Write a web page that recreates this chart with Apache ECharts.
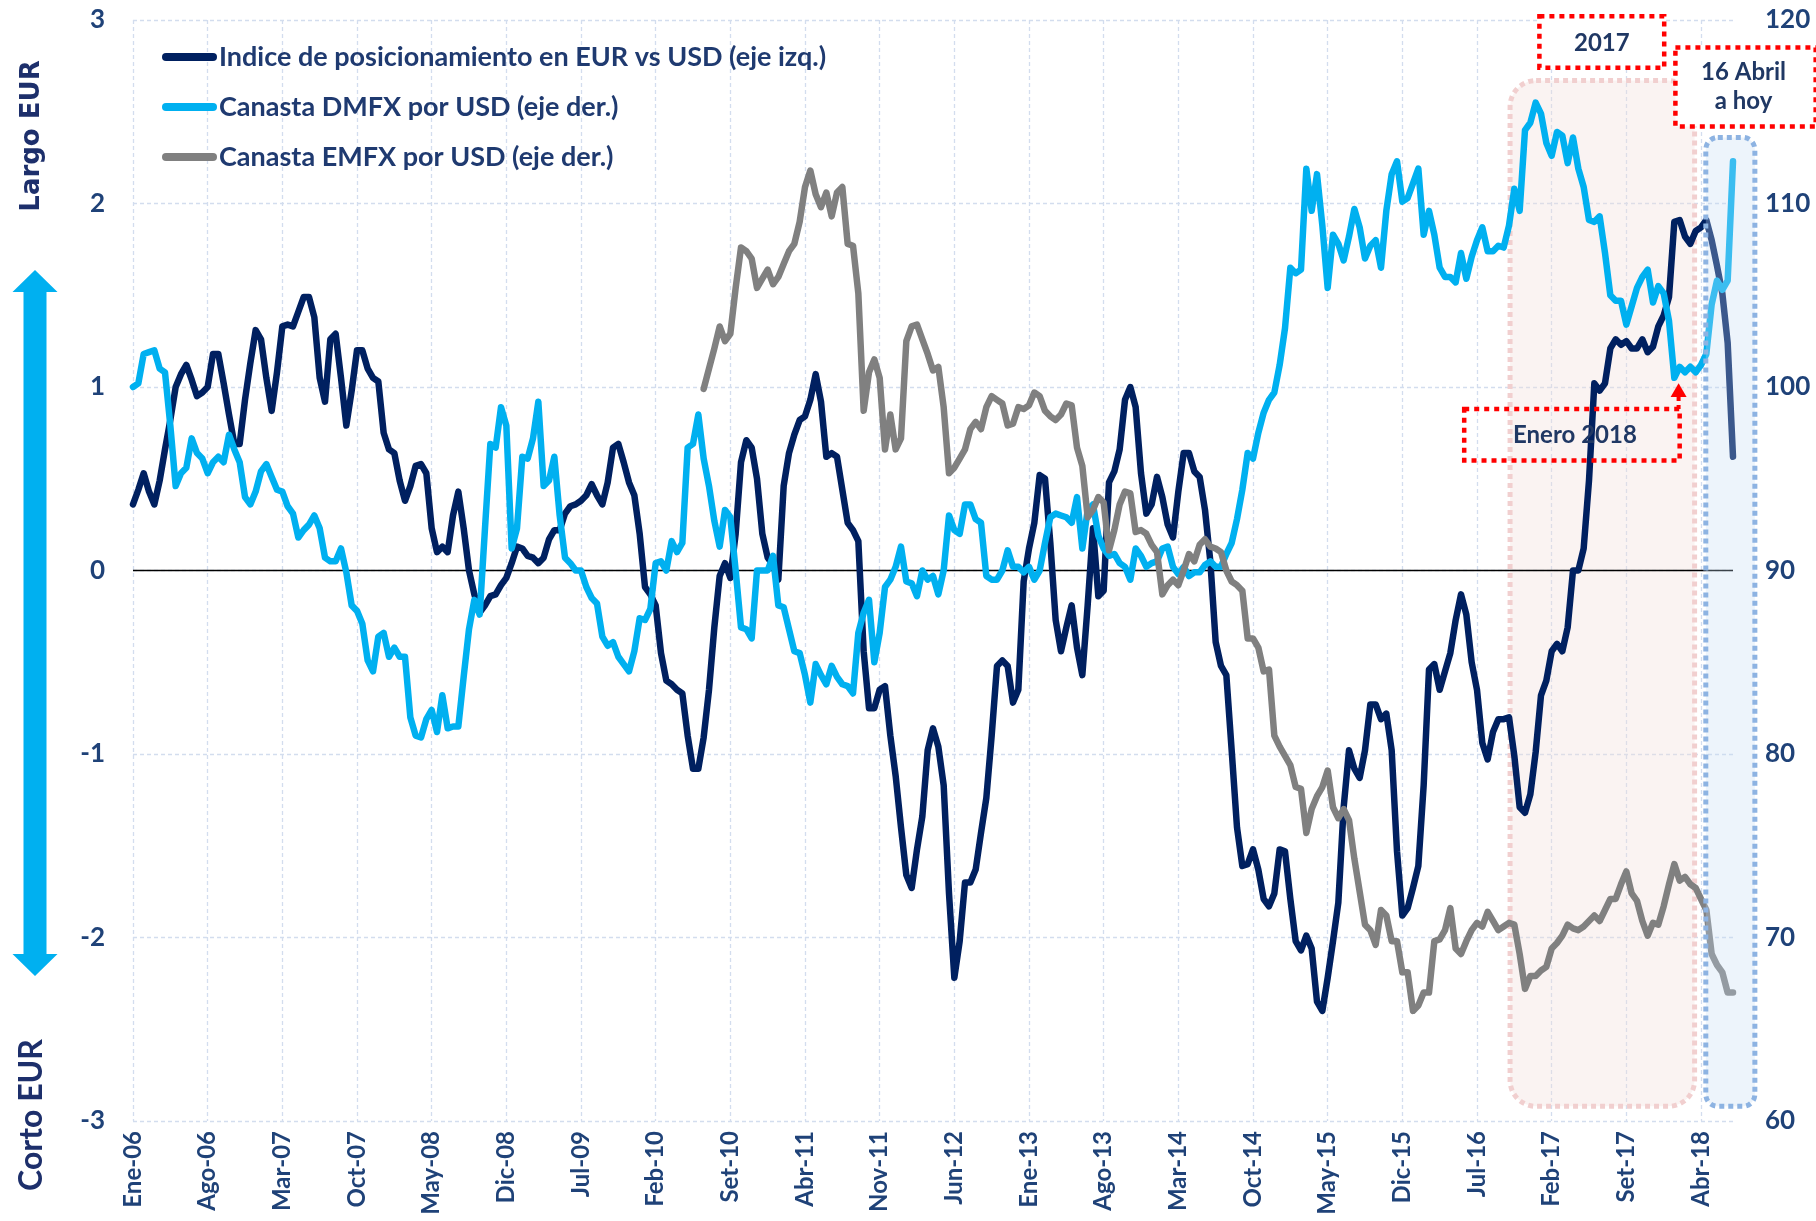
<!DOCTYPE html>
<html><head><meta charset="utf-8">
<script src="https://cdn.jsdelivr.net/npm/echarts@6/dist/echarts.min.js"></script>
<style>html,body{margin:0;padding:0;background:#fff}#c{width:1816px;height:1221px}</style>
</head><body><div id="c"></div>
<script>
// ---------- DATA (semi-monthly points, Jan-2006 .. Jul-2018) ----------
const tickLabels = ['Ene-06','Ago-06','Mar-07','Oct-07','May-08','Dic-08','Jul-09','Feb-10','Set-10','Abr-11','Nov-11','Jun-12','Ene-13','Ago-13','Mar-14','Oct-14','May-15','Dic-15','Jul-16','Feb-17','Set-17','Abr-18'];

const seriesNames = ['Indice de posicionamiento en EUR vs USD (eje izq.)','Canasta DMFX por USD (eje der.)','Canasta EMFX por USD (eje der.)'];

const indice = [
0.36,0.44,0.53,0.43,0.36,0.49,0.66,0.82,1.00,1.07,
1.12,1.04,0.95,0.97,1.00,1.18,1.18,1.02,0.85,0.69,
0.69,0.93,1.13,1.31,1.26,1.05,0.87,1.08,1.33,1.34,
1.33,1.41,1.49,1.49,1.38,1.05,0.92,1.26,1.29,1.05,
0.79,0.98,1.20,1.20,1.10,1.05,1.03,0.75,0.66,0.64,
0.49,0.38,0.46,0.57,0.58,0.53,0.23,0.10,0.13,0.10,
0.30,0.43,0.23,0.00,-0.13,-0.23,-0.19,-0.14,-0.13,-0.08,
-0.04,0.04,0.13,0.12,0.08,0.07,0.04,0.07,0.17,0.22,
0.22,0.31,0.35,0.36,0.38,0.41,0.47,0.41,0.36,0.48,
0.67,0.69,0.59,0.48,0.41,0.20,-0.09,-0.13,-0.19,-0.45,
-0.60,-0.62,-0.65,-0.67,-0.90,-1.08,-1.08,-0.91,-0.65,-0.31,
-0.03,0.04,-0.04,0.20,0.59,0.71,0.67,0.50,0.20,0.07,
0.03,-0.05,0.46,0.64,0.74,0.82,0.84,0.93,1.07,0.92,
0.62,0.64,0.62,0.44,0.26,0.22,0.16,-0.44,-0.75,-0.75,
-0.65,-0.63,-0.90,-1.12,-1.40,-1.66,-1.73,-1.52,-1.34,-0.98,
-0.86,-0.96,-1.17,-1.76,-2.22,-2.02,-1.70,-1.70,-1.63,-1.43,
-1.24,-0.90,-0.52,-0.49,-0.52,-0.72,-0.65,-0.06,0.12,0.26,
0.52,0.50,0.15,-0.27,-0.44,-0.31,-0.19,-0.42,-0.57,-0.19,
0.23,-0.14,-0.11,0.48,0.54,0.66,0.93,1.00,0.89,0.53,
0.31,0.36,0.51,0.40,0.25,0.18,0.43,0.64,0.64,0.54,
0.51,0.33,0.05,-0.39,-0.52,-0.57,-0.98,-1.40,-1.61,-1.60,
-1.52,-1.63,-1.79,-1.83,-1.76,-1.52,-1.53,-1.79,-2.02,-2.07,
-1.99,-2.06,-2.35,-2.40,-2.22,-2.02,-1.81,-1.29,-0.98,-1.08,
-1.13,-0.98,-0.73,-0.73,-0.81,-0.78,-0.98,-1.53,-1.88,-1.84,
-1.73,-1.61,-1.17,-0.54,-0.51,-0.65,-0.55,-0.45,-0.27,-0.13,
-0.24,-0.50,-0.65,-0.94,-1.03,-0.88,-0.81,-0.81,-0.80,-1.01,
-1.29,-1.32,-1.22,-0.99,-0.68,-0.60,-0.44,-0.40,-0.44,-0.31,
0.00,0.00,0.12,0.49,1.02,0.98,1.02,1.21,1.26,1.23,
1.25,1.21,1.21,1.26,1.19,1.22,1.33,1.39,1.49,1.90,
1.91,1.82,1.78,1.85,1.87,1.91,1.80,1.66,1.51,1.24,
0.62];

const dmfx = [
100.0,100.2,101.8,101.9,102.0,101.0,100.8,97.9,94.6,95.3,
95.6,97.2,96.4,96.1,95.3,95.9,96.2,95.9,97.4,96.6,
95.9,94.0,93.6,94.3,95.4,95.8,95.1,94.4,94.3,93.5,
93.1,91.8,92.2,92.5,93.0,92.3,90.7,90.5,90.5,91.2,
89.9,88.1,87.8,87.1,85.1,84.5,86.4,86.6,85.3,85.8,
85.3,85.3,82.0,81.0,80.9,81.9,82.4,81.2,83.2,81.4,
81.5,81.5,84.2,86.8,88.4,87.6,92.3,96.9,96.7,98.9,
97.9,91.2,92.3,96.2,96.1,97.2,99.2,94.6,94.9,96.2,
93.0,90.7,90.4,90.0,90.0,89.1,88.5,88.2,86.4,85.9,
86.1,85.3,84.9,84.5,85.6,87.4,87.3,87.9,90.4,90.5,
90.0,91.6,91.0,91.5,96.7,96.9,98.5,96.1,94.6,92.7,
91.3,93.3,92.9,90.0,86.9,86.8,86.3,90.0,90.0,90.0,
90.8,88.1,88.0,86.8,85.6,85.5,84.3,82.8,84.9,84.3,
83.8,84.8,84.2,83.8,83.7,83.3,86.6,87.7,88.4,85.0,
86.6,89.1,89.5,90.2,91.3,89.4,89.3,88.6,90.0,89.5,
89.7,88.7,90.0,93.0,92.2,92.0,93.6,93.6,92.8,92.6,
89.7,89.5,89.5,90.0,91.1,90.2,90.2,89.9,90.2,89.5,
90.0,91.5,92.9,93.1,93.0,92.9,92.6,94.0,91.2,93.3,
93.6,91.9,91.2,90.8,90.9,90.4,90.2,89.5,91.2,90.8,
90.2,90.4,90.5,91.2,91.3,90.2,89.8,90.2,89.7,89.9,
89.9,90.3,90.5,90.2,90.2,90.9,91.5,92.8,94.4,96.4,
96.1,97.5,98.6,99.3,99.7,101.2,103.2,106.5,106.2,106.4,
111.9,109.6,111.6,108.8,105.4,108.3,107.8,106.9,108.2,109.7,
108.7,107.0,107.7,108.0,106.5,109.6,111.6,112.3,110.1,110.3,
111.1,111.9,108.3,109.6,108.3,106.5,106.0,106.0,105.7,107.3,
105.9,107.1,108.0,108.7,107.4,107.4,107.7,107.6,108.8,110.8,
109.6,114.0,114.4,115.5,114.9,113.3,112.6,113.9,113.7,112.2,
113.6,111.9,110.9,109.1,109.0,109.3,107.3,105.0,104.7,104.7,
103.4,104.4,105.4,106.0,106.4,104.6,105.5,105.1,103.6,100.5,
101.1,100.8,101.1,100.8,101.2,101.8,104.5,105.8,105.3,105.8,
112.3];

// EMFX basket starts in mid-2010 (first 107 semi-monthly points have no data)
const emfxMissing = 107;
const emfxValues = [
99.9,101.0,102.1,
103.3,102.5,102.9,105.4,107.6,107.4,107.0,105.4,105.9,106.4,
105.6,106.0,106.7,107.4,107.8,109.0,110.9,111.8,110.5,109.8,
110.6,109.3,110.6,110.9,107.8,107.7,105.1,98.7,100.8,101.5,
100.5,96.6,98.5,96.6,97.2,102.5,103.3,103.4,102.6,101.8,
100.9,101.1,98.9,95.3,95.6,96.1,96.6,97.7,98.1,97.7,
98.9,99.5,99.3,99.1,97.9,98.0,98.9,98.8,99.0,99.7,
99.5,98.7,98.4,98.2,98.5,99.1,99.0,96.7,95.7,92.9,
93.3,94.0,93.7,91.1,92.2,93.6,94.3,94.2,92.1,92.2,
92.0,91.4,91.0,88.7,89.2,89.5,89.2,90.0,90.9,90.5,
91.4,91.7,91.3,91.2,91.0,90.0,89.4,89.2,88.9,86.3,
86.3,85.8,84.5,84.6,81.0,80.4,79.9,79.4,78.2,78.1,
75.7,77.0,77.7,78.2,79.1,77.1,76.5,77.0,76.4,74.3,
72.5,70.7,70.4,69.6,71.5,71.2,69.8,69.8,68.1,68.1,
66.0,66.3,67.0,67.0,69.8,69.9,70.4,71.6,69.4,69.1,
69.8,70.4,70.8,70.6,71.4,70.9,70.4,70.6,70.8,70.7,
69.1,67.2,67.9,67.9,68.2,68.4,69.4,69.7,70.1,70.7,
70.5,70.4,70.6,70.9,71.2,70.9,71.5,72.1,72.1,72.9,
73.6,72.4,72.0,70.9,70.1,70.8,70.7,71.7,72.9,74.0,
73.1,73.3,72.9,72.7,72.1,71.5,69.1,68.5,68.1,67.0,
67.0];
const emfx = new Array(emfxMissing).fill(null).concat(emfxValues);

// categories: 1st and 16th of each month
const categories = [];
for (let h = 0; h < indice.length; h++) {
  const m = Math.floor(h / 2);
  const y = 2006 + Math.floor(m / 12), mo = m % 12 + 1;
  categories.push(y + '-' + String(mo).padStart(2, '0') + '-' + (h % 2 ? '16' : '01'));
}

// ---------- CHART ----------
const TXT = '#1f4278';
const GRID = '#d3ddee';
const LW = 6.5;
const chart = echarts.init(document.getElementById('c'), null, {renderer: 'canvas'});
const baseLine = {type: 'line', showSymbol: false, symbol: 'none', smooth: false, connectNulls: false};
chart.setOption({
  animation: false,
  backgroundColor: '#ffffff',
  grid: {left: 133, right: 83, top: 20, bottom: 100},
  legend: {
    orient: 'vertical', left: 157, top: 37, itemWidth: 55, itemHeight: 8, itemGap: 20,
    icon: 'path://M4,0H51A4,4,0,0,1,51,8H4A4,4,0,0,1,4,0Z',
    textStyle: {fontFamily: 'Lato', fontWeight: 'bold', fontSize: 27, color: '#1f3a70', lineHeight: 30, padding: [0, 0, 0, -3]},
    data: seriesNames
  },
  xAxis: {
    type: 'category', data: categories, boundaryGap: false,
    axisLine: {show: false}, axisTick: {show: false},
    axisLabel: {interval: 13, rotate: 90, margin: 10, fontFamily: 'Lato', fontWeight: 'bold', fontSize: 24, color: TXT,
      formatter: (v, i) => tickLabels[i / 14] || ''},
    splitLine: {show: true, interval: 13, lineStyle: {color: GRID, type: [4, 3], width: 1.3}}
  },
  yAxis: [
    {type: 'value', min: -3, max: 3, interval: 1, position: 'left',
     axisLine: {show: false}, axisTick: {show: false},
     axisLabel: {margin: 28, fontFamily: 'Lato', fontWeight: 'bold', fontSize: 26, color: TXT},
     splitLine: {show: true, lineStyle: {color: GRID, type: [4, 3], width: 1.3}}},
    {type: 'value', min: 60, max: 120, interval: 10, position: 'right',
     axisLine: {show: false}, axisTick: {show: false},
     axisLabel: {margin: 32, fontFamily: 'Lato', fontWeight: 'bold', fontSize: 26, color: TXT},
     splitLine: {show: false}}
  ],
  series: [
    Object.assign({}, baseLine, {name: seriesNames[0], yAxisIndex: 0, data: indice, z: 2,
      itemStyle: {color: '#002060'}, lineStyle: {color: '#002060', width: LW, join: 'round', cap: 'round'}}),
    Object.assign({}, baseLine, {name: seriesNames[1], yAxisIndex: 1, data: dmfx, z: 3,
      itemStyle: {color: '#00b0f0'}, lineStyle: {color: '#00b0f0', width: LW, join: 'round', cap: 'round'}}),
    Object.assign({}, baseLine, {name: seriesNames[2], yAxisIndex: 1, data: emfx, z: 4,
      itemStyle: {color: '#808080'}, lineStyle: {color: '#808080', width: LW, join: 'round', cap: 'round'}})
  ]
});

// ---------- ANNOTATIONS (placed through the axes) ----------
const last = indice.length - 1;
const x0 = chart.convertToPixel({xAxisIndex: 0, yAxisIndex: 1}, [0, 60])[0];
const x1 = chart.convertToPixel({xAxisIndex: 0, yAxisIndex: 1}, [last, 60])[0];
const X = h => x0 + (x1 - x0) * h / last;
const Y = v => chart.convertToPixel({xAxisIndex: 0, yAxisIndex: 1}, [0, v])[1];
const YL = v => chart.convertToPixel({xAxisIndex: 0, yAxisIndex: 0}, [0, v])[1];
const rectBetween = (h1, h2, v1, v2) => ({x: X(h1), y: Y(v1), width: X(h2) - X(h1), height: Y(v2) - Y(v1)});
const FONT = 'bold 24px Lato';
const ANN = '#203864';

const pink = rectBetween(258.2, 292.8, 116.7, 60.8);
const blue = rectBetween(294.9, 304.1, 113.6, 60.8);
const b2017 = rectBetween(263.7, 287.1, 120.2, 117.4);
const bAbril = rectBetween(289.2, 315.5, 118.5, 114.2);
const bEnero = rectBetween(249.6, 290.0, 98.8, 96.0);
const triX = X(289.8), triTip = Y(100.2), triBase = Y(99.45);
const zeroY = YL(0);

const redDot = {stroke: '#ff0000', lineWidth: 4.5, lineDash: [5, 5], fill: null};
chart.setOption({graphic: [
  {type: 'rect', z: 1, shape: Object.assign({r: 26}, pink),
   style: {fill: 'rgba(242,220,219,0.35)', stroke: '#f1cfcf', lineWidth: 5, lineDash: [5, 4]}},
  {type: 'line', z: 1, shape: {x1: x0, y1: zeroY, x2: x1, y2: zeroY}, style: {stroke: '#000', lineWidth: 1.6}},
  {type: 'rect', z: 10, shape: Object.assign({r: 12}, blue),
   style: {fill: 'rgba(197,217,241,0.3)', stroke: '#8db3e2', lineWidth: 5, lineDash: [5, 4]}},
  {type: 'rect', z: 11, shape: b2017, style: Object.assign({}, redDot, {fill: '#fff'})},
  {type: 'text', z: 12, x: b2017.x + b2017.width / 2, y: b2017.y + b2017.height / 2 + 1,
   style: {text: '2017', font: FONT, fill: ANN, align: 'center', verticalAlign: 'middle', textAlign: 'center', textVerticalAlign: 'middle'}},
  {type: 'rect', z: 11, shape: bAbril, style: Object.assign({}, redDot, {fill: '#fff'})},
  {type: 'text', z: 12, x: bAbril.x + bAbril.width / 2 - 2, y: bAbril.y + bAbril.height / 2,
   style: {text: '16 Abril\na hoy', font: FONT, lineHeight: 29, fill: ANN, align: 'center', verticalAlign: 'middle', textAlign: 'center', textVerticalAlign: 'middle'}},
  {type: 'rect', z: 11, shape: bEnero, style: redDot},
  {type: 'text', z: 12, x: bEnero.x + bEnero.width / 2 + 3, y: bEnero.y + bEnero.height / 2 + 1,
   style: {text: 'Enero 2018', font: FONT, fill: ANN, align: 'center', verticalAlign: 'middle', textAlign: 'center', textVerticalAlign: 'middle'}},
  {type: 'line', z: 11, shape: {x1: triX, y1: triBase, x2: triX, y2: bEnero.y}, style: {stroke: '#ff0000', lineWidth: 4, lineDash: [4, 4]}},
  {type: 'polygon', z: 12, shape: {points: [[triX, triTip], [triX + 8, triBase], [triX - 8, triBase]]}, style: {fill: '#ff0000'}},
  {type: 'polygon', z: 5, shape: {points: [[35, 270], [57.5, 292], [46.5, 292], [46.5, 954], [57.5, 954], [35, 976], [12.5, 954], [23.5, 954], [23.5, 292], [12.5, 292]]},
   style: {fill: '#00b0f0'}},
  {type: 'text', z: 5, x: 32, y: 136, rotation: Math.PI / 2,
   style: {text: 'Largo EUR', font: 'bold 26px "DejaVu Sans"', fill: '#1d2f6b', align: 'center', verticalAlign: 'middle', textAlign: 'center', textVerticalAlign: 'middle'}},
  {type: 'text', z: 5, x: 32, y: 1115, rotation: Math.PI / 2,
   style: {text: 'Corto EUR', font: 'bold 32px Lato', fill: '#1d2f6b', align: 'center', verticalAlign: 'middle', textAlign: 'center', textVerticalAlign: 'middle'}}
]});
</script>
</body></html>
